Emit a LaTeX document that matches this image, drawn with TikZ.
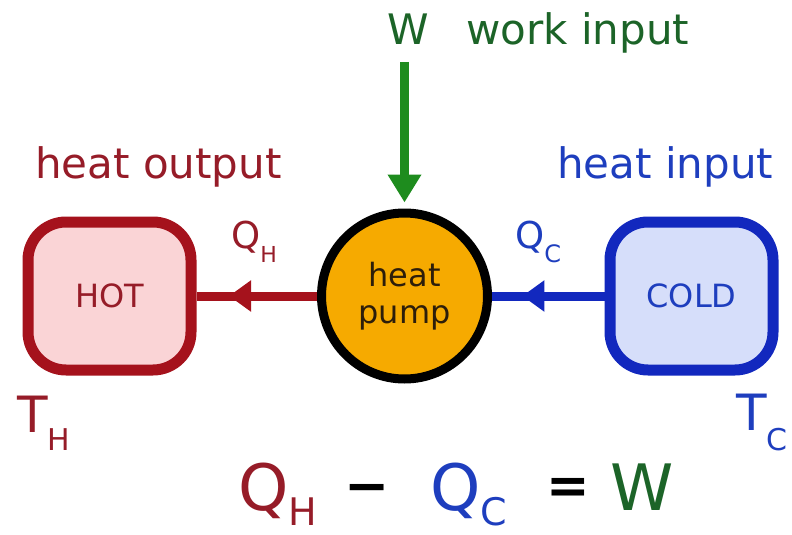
\documentclass[tikz,border=0pt]{standalone}
\usepackage{fontspec}
\setmainfont{DejaVu Sans}
\usetikzlibrary{arrows.meta,decorations.markings}
\definecolor{hotred}{RGB}{165,18,28}
\definecolor{hotfill}{RGB}{250,212,214}
\definecolor{hottext}{RGB}{150,28,40}
\definecolor{coldblue}{RGB}{18,40,190}
\definecolor{coldfill}{RGB}{214,222,250}
\definecolor{coldtext}{RGB}{30,62,190}
\definecolor{workgreen}{RGB}{30,140,30}
\definecolor{worktext}{RGB}{28,100,40}
\definecolor{pumporange}{RGB}{246,170,0}
\definecolor{pumptext}{RGB}{45,30,10}
\newcommand\fs[1]{\fontsize{#1}{#1}\selectfont}
\newcommand\withsub[5]{{\fs{#1}#2}\raisebox{-#5pt}{\fs{#3}#4}}
\begin{document}
\begin{tikzpicture}[x=1pt,y=-1pt,
  reservoir/.style={draw, line width=11pt, rounded corners=38pt,
    minimum width=163pt, minimum height=148pt, font=\fs{32}},
  pumpnode/.style={circle, draw=black, line width=9pt, fill=pumporange,
    minimum size=166pt, align=center, text=pumptext,
    font=\fontsize{32}{37}\selectfont},
  lbl/.style={inner sep=0pt, anchor=base west},
  flow/.style={line width=9pt},
  midarrow/.style={postaction={decorate}, decoration={markings,
    mark=at position #1 with {\arrow{Triangle[length=22pt,width=30pt]}}}}
]
\useasboundingbox (0,0) rectangle (792,535);

\node[reservoir, draw=hotred, fill=hotfill, text=hottext] (hot) at (109.5,296) {HOT};
\node[reservoir, draw=coldblue, fill=coldfill, text=coldtext] (cold) at (691.5,296) {COLD};
\node[pumpnode] (pump) at (404.5,296) {heat\\pump};

\coordinate (wtop) at (404.5,62);
\draw[flow, color=workgreen, -{Triangle[length=28pt,width=32pt]}, shorten >=6pt] (wtop) -- (pump.north);
\draw[flow, color=hotred, midarrow=0.73] (pump.west) -- (hot.east);
\draw[flow, color=coldblue, midarrow=0.73] (cold.west) -- (pump.east);

\node[lbl, text=worktext, font=\fs{42}] (wlabel) at (387,45) {W};
\node[lbl, text=worktext, font=\fs{42}] (worklabel) at (466,45) {work input};
\node[lbl, text=hottext, font=\fs{42}] (outlabel) at (35,178) {heat output};
\node[lbl, text=coldtext, font=\fs{42}] (inlabel) at (557,178) {heat input};

\node[lbl, text=hottext] (qh) at (231,248) {\withsub{37}{Q}{22}{H}{14}};
\node[lbl, text=coldtext] (qc) at (515,248) {\withsub{37}{Q}{24}{C}{14}};
\node[lbl, text=hottext] (th) at (17,432) {\withsub{50}{T}{30}{H}{18}};
\node[lbl, text=coldtext] (tc) at (736,430) {\withsub{50}{T}{30}{C}{20}};

\node[lbl, text=hottext] (eqh) at (238,510) {\withsub{64}{Q}{38}{H}{15}};
\node[lbl, text=black, font=\bfseries\fs{54}] (eqminus) at (344,504) {−};
\node[lbl, text=black, font=\bfseries\fs{52}] (eqeq) at (546,503) {=};
\node[lbl, text=coldtext] (eqc) at (430,510) {\withsub{64}{Q}{38}{C}{15}};
\node[lbl, text=worktext] (eqw) at (610,510) {\fs{64}W};
\end{tikzpicture}
\end{document}
